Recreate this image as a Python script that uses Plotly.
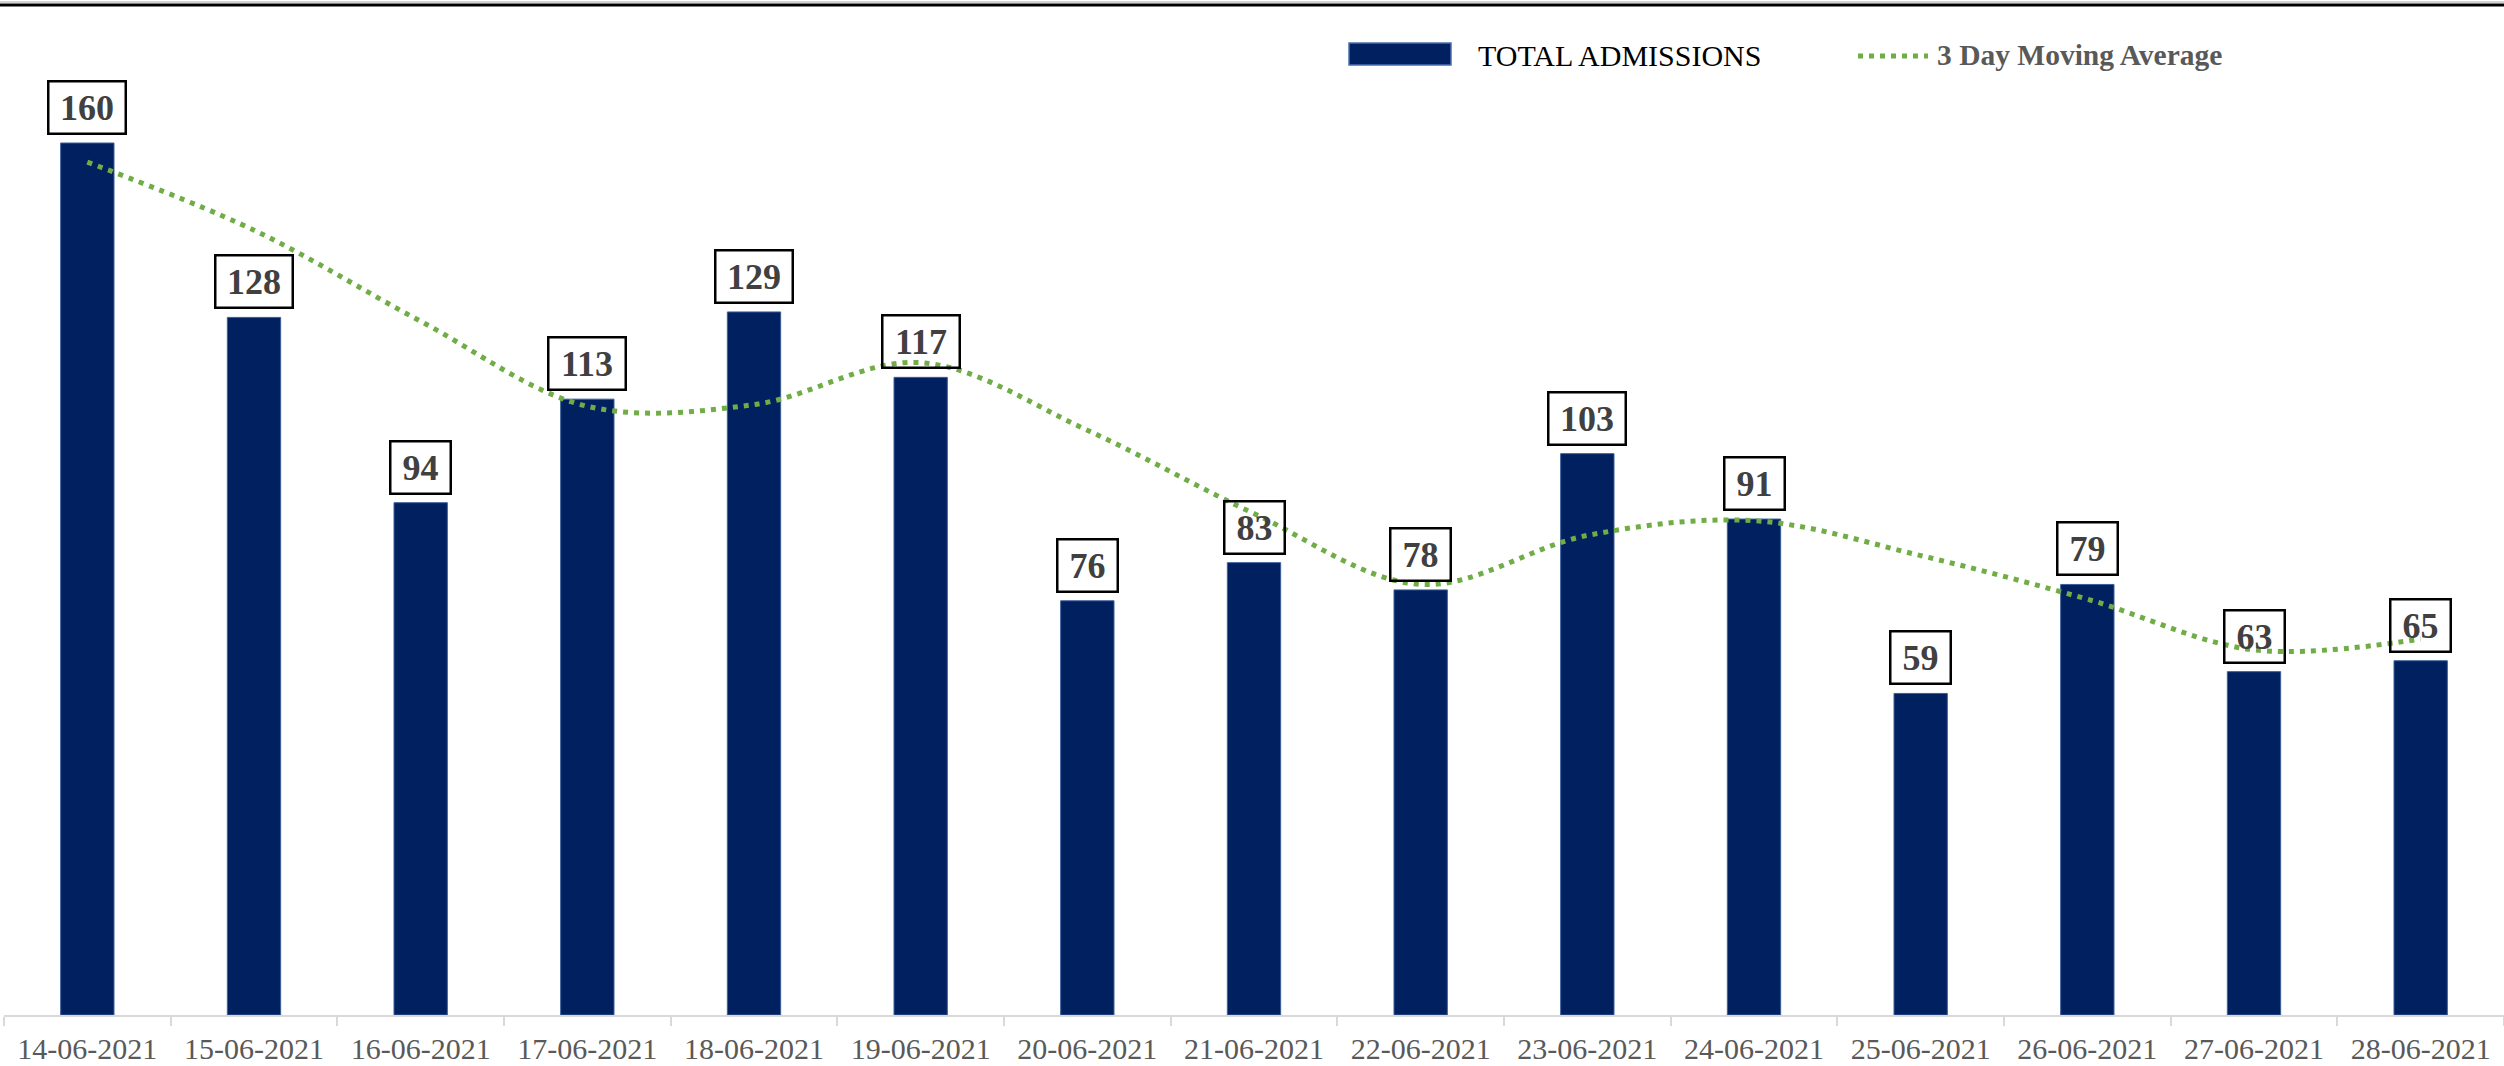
import plotly.graph_objects as go

dates = ["14-06-2021", "15-06-2021", "16-06-2021", "17-06-2021", "18-06-2021",
         "19-06-2021", "20-06-2021", "21-06-2021", "22-06-2021", "23-06-2021",
         "24-06-2021", "25-06-2021", "26-06-2021", "27-06-2021", "28-06-2021"]
admissions = [160, 128, 94, 113, 129, 117, 76, 83, 78, 103, 91, 59, 79, 63, 65]
moving_avg = [156.5, 144.0, 127.3, 111.7, 112.0, 119.7, 107.3, 92.0, 79.0, 88.0,
              90.7, 84.3, 76.3, 67.0, 69.0]

W, H = 2504, 1066
ML, MR, MT, MB = 4, 0, 60, 51
PW, PH = W - ML - MR, H - MT - MB
PX_PER_UNIT = 5.45
YMAX = PH / PX_PER_UNIT

SERIF = "Liberation Serif"
NAVY = "#002060"
GREEN = "#70AD47"


def px_x(px):
    return (px - ML) / PW


def px_y(py):
    return (H - MB - py) / PH


fig = go.Figure()
fig.add_trace(go.Bar(
    x=dates, y=admissions, name="TOTAL ADMISSIONS",
    marker=dict(color=NAVY, line=dict(color="#3B5E9A", width=1)),
    showlegend=False,
))
fig.add_trace(go.Scatter(
    x=dates, y=moving_avg, name="3 Day Moving Average", mode="lines",
    line=dict(color=GREEN, width=5, dash="5px,6px", shape="spline", smoothing=1),
    showlegend=False,
))

annotations = []
for d, v in zip(dates, admissions):
    txt = str(v)
    annotations.append(dict(
        x=d, y=v, xref="x", yref="y", text="<b>%s</b>" % txt, showarrow=False,
        yanchor="bottom", yshift=8,
        font=dict(family=SERIF, size=36, color="#404040"),
        bordercolor="#000000", borderwidth=2.5, borderpad=1,
        bgcolor="rgba(0,0,0,0)",
        width=17 * len(txt) + 22, height=48,
    ))

# manual legend
annotations.append(dict(
    x=px_x(1476), y=px_y(55), xref="paper", yref="paper", xanchor="left",
    yanchor="middle", showarrow=False, text="TOTAL ADMISSIONS",
    font=dict(family=SERIF, size=30, color="#000000"),
))
annotations.append(dict(
    x=px_x(1935), y=px_y(55), xref="paper", yref="paper", xanchor="left",
    yanchor="middle", showarrow=False, text="<b>3 Day Moving Average</b>",
    font=dict(family=SERIF, size=29.5, color="#595959"),
))

shapes = [
    dict(type="rect", xref="paper", yref="paper",
         x0=px_x(1349), x1=px_x(1451), y0=px_y(65), y1=px_y(43),
         fillcolor=NAVY, line=dict(color="#4A6FB0", width=1.5)),
    dict(type="line", xref="paper", yref="paper",
         x0=px_x(1858), x1=px_x(1928), y0=px_y(56), y1=px_y(56),
         line=dict(color=GREEN, width=5, dash="5px,6px")),
    dict(type="line", xref="paper", yref="paper",
         x0=px_x(0), x1=px_x(W), y0=px_y(2), y1=px_y(2),
         line=dict(color="#A6A6A6", width=1)),
    dict(type="line", xref="paper", yref="paper",
         x0=px_x(0), x1=px_x(W), y0=px_y(5), y1=px_y(5),
         line=dict(color="#000000", width=3)),
]

fig.update_layout(
    width=W, height=H,
    margin=dict(l=ML, r=MR, t=MT, b=MB, pad=0),
    paper_bgcolor="white", plot_bgcolor="white",
    bargap=0.68,
    showlegend=False,
    annotations=annotations,
    shapes=shapes,
    xaxis=dict(
        type="category", showgrid=False, zeroline=False,
        showline=True, linecolor="#D9D9D9", linewidth=2,
        ticks="outside", tickson="boundaries", ticklen=9, tickcolor="#D9D9D9",
        tickwidth=2, ticklabelstandoff=6,
        tickfont=dict(family=SERIF, size=30, color="#595959"),
    ),
    yaxis=dict(visible=False, range=[0, YMAX]),
)

fig.write_html(
    "out.html",
    config={"displayModeBar": False},
    post_script="document.body.style.margin='0';document.body.style.padding='0';"
                "document.body.style.overflow='hidden';",
)
